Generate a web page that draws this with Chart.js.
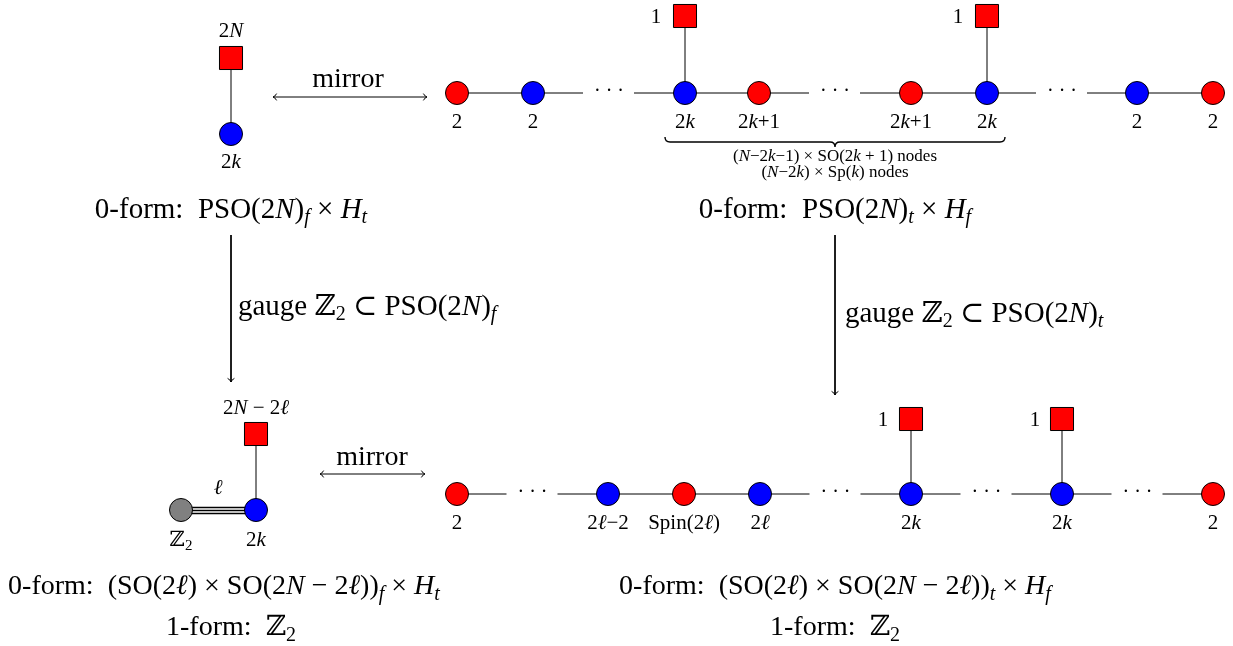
<!DOCTYPE html>
<html>
<head>
<meta charset="utf-8">
<script src="https://cdn.jsdelivr.net/npm/chart.js@4.4.1/dist/chart.umd.min.js"></script>
<style>
  html, body { margin: 0; padding: 0; background: #fff; overflow: hidden; }
  #wrap { width: 1233px; height: 646px; }
</style>
</head>
<body>
<div id="wrap"><canvas id="quiver"></canvas></div>
<script>
// --- DATA (diagram units = pixels of the 1233x646 sheet) ---
// top-left quiver
const tlNodeX = [231];            const tlNodeY = [134];   const tlNodeColor = ['#0000ff'];
const tlFlavorX = [231];          const tlFlavorY = [58];
// top-right chain
const trChainY = 93;
const trNodeX = [457, 533, 685, 759, 911, 987, 1137, 1213];
const trNodeColor = ['#ff0000', '#0000ff', '#0000ff', '#ff0000', '#ff0000', '#0000ff', '#0000ff', '#ff0000'];
const trNodeLabel = ['2', '2', '2{k}', '2{k}+1', '2{k}+1', '2{k}', '2', '2'];
const trFlavorX = [685, 987];     const trFlavorY = 16;
const trGaps = [[533, 685], [759, 911], [987, 1137]];   // edges broken by dots
const trSolid = [[457, 533], [685, 759], [911, 987], [1137, 1213]];
// bottom-left quiver
const blNodeX = [181, 256];       const blNodeY = 510;     const blNodeColor = ['#808080', '#0000ff'];
const blFlavorX = [256];          const blFlavorY = [434];
// bottom-right chain
const brChainY = 494;
const brNodeX = [457, 608, 684, 760, 911, 1062, 1213];
const brNodeColor = ['#ff0000', '#0000ff', '#ff0000', '#0000ff', '#0000ff', '#0000ff', '#ff0000'];
const brNodeLabel = ['2', '2{ℓ}−2', 'Spin(2{ℓ})', '2{ℓ}', '2{k}', '2{k}', '2'];
const brFlavorX = [911, 1062];    const brFlavorY = 419;
const brGaps = [[457, 608], [760, 911], [911, 1062], [1062, 1213]];
const brSolid = [[608, 684], [684, 760]];
// arrows: [x1, y1, x2, y2, heads]
const arrowSegs = [
  [273, 97, 427, 97, 2],
  [320, 474, 425, 474, 2],
  [231, 235, 231, 382, 1],
  [835, 235, 835, 395, 1]
];
// texts: [markup, x, y, size, align]
const texts = [
  ['2{N}', 231, 31, 21, 'center'],
  ['2{k}', 231, 162, 21, 'center'],
  ['mirror', 348, 80, 28, 'center'],
  ['0-form:  PSO(2{N})_{f} × {H}_{t}', 231, 210, 29, 'center'],
  ['1', 656, 17, 21, 'center'],
  ['1', 958, 17, 21, 'center'],
  ['(N−2k−1) × SO(2k + 1) nodes', 835, 157, 17, 'center'],
  ['(N−2k) × Sp(k) nodes', 835, 173, 17, 'center'],
  ['0-form:  PSO(2{N})_{t} × {H}_{f}', 835, 210, 29, 'center'],
  ['gauge ℤ_2 ⊂ PSO(2{N})_{f}', 238, 307, 29, 'left'],
  ['gauge ℤ_2 ⊂ PSO(2{N})_{t}', 845, 314, 29, 'left'],
  ['2{N} − 2{ℓ}', 256, 408, 21, 'center'],
  ['{ℓ}', 218, 488, 21, 'center'],
  ['ℤ_2', 181, 540, 21, 'center'],
  ['2{k}', 256, 540, 21, 'center'],
  ['mirror', 372, 458, 28, 'center'],
  ['1', 883, 420, 21, 'center'],
  ['1', 1035, 420, 21, 'center'],
  ['0-form:  (SO(2{ℓ}) × SO(2{N} − 2{ℓ}))_{f} × {H}_{t}', 224, 587, 28, 'center'],
  ['1-form:  ℤ_2', 231, 628, 28, 'center'],
  ['0-form:  (SO(2{ℓ}) × SO(2{N} − 2{ℓ}))_{t} × {H}_{f}', 835, 587, 28, 'center'],
  ['1-form:  ℤ_2', 835, 628, 28, 'center']
];
const braceSpan = [665, 1005, 137];

// --- BUILD DATASETS ---
const edgeStyle = { borderColor: '#000', borderWidth: 1, pointRadius: 0, showLine: true, fill: false, order: 2 };
const datasets = [];
function edge(x1, y1, x2, y2, extra) {
  datasets.push(Object.assign({ data: [{ x: x1, y: y1 }, { x: x2, y: y2 }] }, edgeStyle, extra || {}));
}
// solid chain edges
trSolid.forEach(s => edge(s[0], trChainY, s[1], trChainY));
brSolid.forEach(s => edge(s[0], brChainY, s[1], brChainY));
// edges with "..." in the middle: two stubs
[[trGaps, trChainY], [brGaps, brChainY]].forEach(([gaps, y]) => {
  gaps.forEach(g => {
    const mid = (g[0] + g[1]) / 2;
    edge(g[0], y, mid - 26, y);
    edge(mid + 25, y, g[1], y);
  });
});
// flavour legs
edge(tlNodeX[0], tlNodeY[0], tlFlavorX[0], tlFlavorY[0]);
trFlavorX.forEach(x => edge(x, trChainY, x, trFlavorY));
edge(blNodeX[1], blNodeY, blFlavorX[0], blFlavorY[0]);
brFlavorX.forEach(x => edge(x, brChainY, x, brFlavorY));
// triple edge
[-3, 0, 3].forEach(d => edge(blNodeX[0], blNodeY + d + 0.5, blNodeX[1], blNodeY + d + 0.5, { borderWidth: 1.4 }));
// arrows
arrowSegs.forEach(a => edge(a[0], a[1], a[2], a[3], { arrow: a[4] }));

// nodes
function nodes(xs, ys, colors, style, r) {
  datasets.push({
    data: xs.map((x, i) => ({ x: x, y: Array.isArray(ys) ? ys[i] : ys })),
    pointStyle: style, pointRadius: r, pointHoverRadius: r,
    pointBackgroundColor: colors, pointBorderColor: '#000', pointBorderWidth: 1,
    showLine: false, order: 1
  });
}
nodes(tlNodeX, tlNodeY, tlNodeColor, 'circle', 11.5);
nodes(trNodeX, trChainY, trNodeColor, 'circle', 11.5);
nodes(blNodeX, blNodeY, blNodeColor, 'circle', 11.5);
nodes(brNodeX, brChainY, brNodeColor, 'circle', 11.5);
nodes(tlFlavorX, tlFlavorY, '#ff0000', 'rect', 16.3);
nodes(trFlavorX, trFlavorY, '#ff0000', 'rect', 16.3);
nodes(blFlavorX, blFlavorY, '#ff0000', 'rect', 16.3);
nodes(brFlavorX, brFlavorY, '#ff0000', 'rect', 16.3);

// --- TEXT HELPERS ---
const SERIF = '"Liberation Serif", "DejaVu Serif", serif';
function parseRuns(s) {
  const runs = [];
  let i = 0, buf = '';
  const flush = () => { if (buf) { runs.push({ t: buf, it: false, sub: false }); buf = ''; } };
  while (i < s.length) {
    const c = s[i];
    if (c === '{') {
      flush();
      const j = s.indexOf('}', i);
      runs.push({ t: s.slice(i + 1, j), it: true, sub: false });
      i = j + 1;
    } else if (c === '_') {
      flush();
      if (s[i + 1] === '{') {
        const j = s.indexOf('}', i);
        runs.push({ t: s.slice(i + 2, j), it: true, sub: true });
        i = j + 1;
      } else {
        runs.push({ t: s[i + 1], it: false, sub: true });
        i += 2;
      }
    } else { buf += c; i++; }
  }
  flush();
  return runs;
}
function fontFor(run, size) {
  const sz = run.sub ? Math.round(size * 0.7) : size;
  return (run.it ? 'italic ' : '') + sz + 'px ' + SERIF;
}
function drawRich(ctx, markup, x, y, size, align) {
  const runs = parseRuns(markup);
  let w = 0;
  runs.forEach(r => { ctx.font = fontFor(r, size); r.w = ctx.measureText(r.t).width; w += r.w; });
  let cx = align === 'center' ? x - w / 2 : x;
  ctx.textBaseline = 'middle';
  ctx.textAlign = 'left';
  ctx.fillStyle = '#000';
  runs.forEach(r => {
    ctx.font = fontFor(r, size);
    ctx.fillText(r.t, cx, r.sub ? y + size * 0.28 : y);
    cx += r.w;
  });
}

const diagramPlugin = {
  id: 'diagram',
  afterDatasetsDraw(chart) {
    const ctx = chart.ctx, xs = chart.scales.x, ys = chart.scales.y;
    const px = v => xs.getPixelForValue(v), py = v => ys.getPixelForValue(v);
    ctx.save();
    // arrowheads
    ctx.strokeStyle = '#000';
    ctx.lineWidth = 1;
    chart.data.datasets.forEach(ds => {
      if (!ds.arrow) return;
      const a = ds.data[0], b = ds.data[1];
      const ends = ds.arrow === 2 ? [[b, a], [a, b]] : [[a, b]];
      ends.forEach(([p, q]) => {
        const x1 = px(p.x), y1 = py(p.y), x2 = px(q.x), y2 = py(q.y);
        const ang = Math.atan2(y2 - y1, x2 - x1);
        ctx.beginPath();
        ctx.moveTo(x2 - 5 * Math.cos(ang - 0.75), y2 - 5 * Math.sin(ang - 0.75));
        ctx.quadraticCurveTo(x2 - 1.5 * Math.cos(ang), y2 - 1.5 * Math.sin(ang), x2, y2);
        ctx.quadraticCurveTo(x2 - 1.5 * Math.cos(ang), y2 - 1.5 * Math.sin(ang),
          x2 - 5 * Math.cos(ang + 0.75), y2 - 5 * Math.sin(ang + 0.75));
        ctx.stroke();
      });
    });
    // brace under top chain
    const [bx1, bx2, by] = braceSpan;
    const l = px(bx1), r = px(bx2), t = py(by), m = (l + r) / 2, h = 5;
    ctx.strokeStyle = '#000';
    ctx.lineWidth = 1.4;
    ctx.beginPath();
    ctx.moveTo(l, t);
    ctx.quadraticCurveTo(l, t + h, l + h, t + h);
    ctx.lineTo(m - h, t + h);
    ctx.quadraticCurveTo(m, t + h, m, t + 2 * h);
    ctx.quadraticCurveTo(m, t + h, m + h, t + h);
    ctx.lineTo(r - h, t + h);
    ctx.quadraticCurveTo(r, t + h, r, t);
    ctx.stroke();
    // dots on chains
    [[trGaps, trChainY], [brGaps, brChainY]].forEach(([gaps, y]) => {
      gaps.forEach(g => drawRich(ctx, '· · ·', px((g[0] + g[1]) / 2), py(y) - 1, 20, 'center'));
    });
    // node labels
    trNodeX.forEach((x, i) => drawRich(ctx, trNodeLabel[i], px(x), py(trChainY + 29), 21, 'center'));
    brNodeX.forEach((x, i) => drawRich(ctx, brNodeLabel[i], px(x), py(brChainY + 29), 21, 'center'));
    // other texts; brace text uses italic letters N,k
    texts.forEach(([s, x, y, size, align]) => {
      let m2 = s;
      if (size === 17) m2 = s.replace(/N/g, '{N}').replace(/k/g, '{k}');
      drawRich(ctx, m2, px(x), py(y), size, align);
    });
    ctx.restore();
  }
};

new Chart(document.getElementById('quiver'), {
  type: 'scatter',
  data: { datasets: datasets },
  options: {
    responsive: true,
    maintainAspectRatio: false,
    animation: false,
    layout: { padding: 0, autoPadding: false },
    plugins: { legend: { display: false }, tooltip: { enabled: false } },
    events: [],
    scales: {
      x: { type: 'linear', min: 0, max: 1233, display: false },
      y: { type: 'linear', min: 0, max: 646, reverse: true, display: false }
    }
  },
  plugins: [diagramPlugin]
});
</script>
</body>
</html>
